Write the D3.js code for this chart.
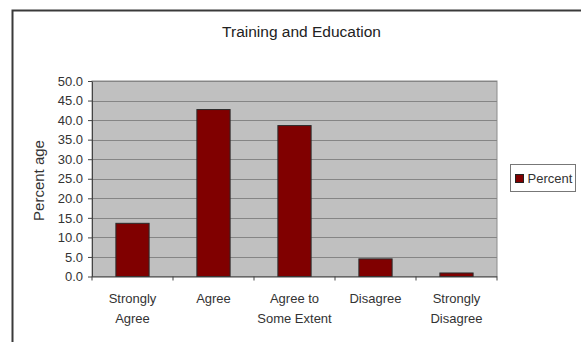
<!DOCTYPE html>
<html>
<head>
<meta charset="utf-8">
<script src="https://cdn.jsdelivr.net/npm/d3@7"></script>
<style>
  body { margin: 0; background: #fff; }
  svg { display: block; font-family: "Liberation Sans", Arial, sans-serif; }
</style>
</head>
<body>
<svg id="chart" width="581" height="342"></svg>
<script>
const categories = [["Strongly", "Agree"], ["Agree"], ["Agree to", "Some Extent"], ["Disagree"], ["Strongly", "Disagree"]];
const percent = [13.6, 42.7, 38.6, 4.5, 0.9];
const yTicks = [0, 5, 10, 15, 20, 25, 30, 35, 40, 45, 50];

const svg = d3.select('#chart');
const plot = { left: 92, top: 81, right: 497, bottom: 276.5 };

// outer chart frame, right and bottom run past the picture
svg.append('rect')
  .attr('x', 12.5).attr('y', 10.5)
  .attr('width', 600).attr('height', 360)
  .attr('fill', '#fff')
  .attr('stroke', '#3a3a3a')
  .attr('stroke-width', 2);

svg.append('text')
  .attr('x', 301.5).attr('y', 37)
  .attr('text-anchor', 'middle')
  .style('font-size', '15.5px')
  .style('fill', '#222')
  .text('Training and Education');

const x = d3.scaleBand()
  .domain(d3.range(categories.length))
  .range([plot.left, plot.right])
  .paddingInner(0.59)
  .paddingOuter(0.295);

const y = d3.scaleLinear()
  .domain([0, 50])
  .range([plot.bottom, plot.top]);

svg.append('rect')
  .attr('x', plot.left).attr('y', plot.top)
  .attr('width', plot.right - plot.left)
  .attr('height', plot.bottom - plot.top)
  .attr('fill', '#c0c0c0')
  .attr('stroke', '#8c8c8c');

svg.append('g')
  .selectAll('line')
  .data(yTicks.slice(1))
  .join('line')
  .attr('x1', plot.left).attr('x2', plot.right)
  .attr('y1', (d) => Math.round(y(d)) + 0.5)
  .attr('y2', (d) => Math.round(y(d)) + 0.5)
  .attr('stroke', '#858585');

svg.append('g')
  .selectAll('rect')
  .data(percent)
  .join('rect')
  .attr('x', (d, i) => x(i))
  .attr('y', (d) => y(d))
  .attr('width', x.bandwidth())
  .attr('height', (d) => y(0) - y(d))
  .attr('fill', '#800000')
  .attr('stroke', '#2a2a2a')
  .attr('stroke-width', 1);

const yAxis = svg.append('g')
  .attr('transform', `translate(${plot.left},0)`)
  .call(d3.axisLeft(y).tickValues(yTicks).tickFormat(d3.format('.1f')).tickSize(4).tickSizeOuter(0));
yAxis.select('.domain').attr('stroke', '#444');
yAxis.selectAll('.tick line').attr('stroke', '#444');
yAxis.selectAll('text')
  .attr('x', -9)
  .style('font-size', '13px')
  .style('font-family', '"Liberation Sans", Arial, sans-serif')
  .style('fill', '#333');

// category axis: ticks sit between the bars
const xAxis = svg.append('g');
xAxis.append('line')
  .attr('x1', plot.left).attr('x2', plot.right)
  .attr('y1', plot.bottom + 0.5).attr('y2', plot.bottom + 0.5)
  .attr('stroke', '#444');
xAxis.selectAll('.sep')
  .data(d3.range(categories.length + 1))
  .join('line')
  .attr('class', 'sep')
  .attr('x1', (i) => plot.left + i * x.step())
  .attr('x2', (i) => plot.left + i * x.step())
  .attr('y1', plot.bottom).attr('y2', plot.bottom + 4)
  .attr('stroke', '#444');
xAxis.selectAll('text')
  .data(categories)
  .join('text')
  .attr('x', (d, i) => x(i) + x.bandwidth() / 2)
  .attr('y', 303)
  .attr('text-anchor', 'middle')
  .style('font-size', '13px')
  .style('fill', '#333')
  .selectAll('tspan')
  .data((d) => d)
  .join('tspan')
  .attr('x', function () { return d3.select(this.parentNode).attr('x'); })
  .attr('dy', (d, i) => (i === 0 ? 0 : 20))
  .text((d) => d);

svg.append('text')
  .attr('transform', 'translate(44,180.5) rotate(-90)')
  .attr('text-anchor', 'middle')
  .style('font-size', '15px')
  .style('fill', '#333')
  .text('Percent age');

const legend = svg.append('g').attr('transform', 'translate(510,164)');
legend.append('rect')
  .attr('x', 0.5).attr('y', 0.5)
  .attr('width', 65).attr('height', 27)
  .attr('fill', '#fff')
  .attr('stroke', '#777');
legend.append('rect')
  .attr('x', 5.5).attr('y', 10.5)
  .attr('width', 8).attr('height', 8)
  .attr('fill', '#800000')
  .attr('stroke', '#222');
legend.append('text')
  .attr('x', 17.5).attr('y', 19)
  .style('font-size', '13px')
  .style('fill', '#333')
  .text('Percent');
</script>
</body>
</html>
